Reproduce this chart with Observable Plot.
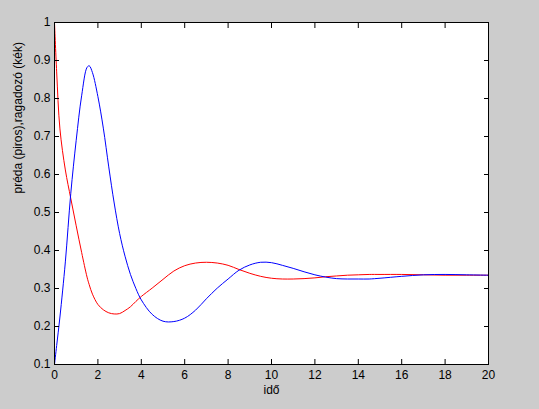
<!DOCTYPE html>
<html>
<head>
<meta charset="utf-8">
<script src="https://cdn.jsdelivr.net/npm/d3@7"></script>
<script src="https://cdn.jsdelivr.net/npm/@observablehq/plot@0.6"></script>
<style>
  html, body { margin: 0; padding: 0; background: #cccccc; }
  svg { display: block; }
</style>
</head>
<body>
<div id="chart"></div>
<script>
const t = [0,0.1,0.25,0.5,0.75,1,1.25,1.5,1.6,1.75,2,2.25,2.5,2.75,3,3.25,3.5,3.75,4,4.5,5,5.5,6,6.5,7,7.5,8,8.5,9,9.5,10,10.5,11,11.5,12,12.5,13,13.5,14,14.5,15,16,17,18,19,20];
const preda = [1.0,0.87,0.72,0.612,0.537,0.465,0.395,0.33,0.31,0.285,0.258,0.244,0.236,0.233,0.234,0.242,0.252,0.266,0.279,0.301,0.324,0.346,0.36,0.367,0.369,0.367,0.361,0.35,0.34,0.332,0.327,0.325,0.325,0.326,0.328,0.331,0.333,0.335,0.336,0.337,0.337,0.337,0.336,0.335,0.335,0.335];
const ragadozo = [0.10,0.15,0.225,0.37,0.55,0.69,0.807,0.882,0.886,0.868,0.805,0.722,0.62,0.525,0.445,0.385,0.337,0.300,0.270,0.232,0.214,0.213,0.222,0.243,0.273,0.301,0.325,0.348,0.362,0.369,0.368,0.361,0.353,0.344,0.336,0.33,0.326,0.325,0.325,0.325,0.327,0.332,0.336,0.337,0.336,0.335];
const xTicks = [0,2,4,6,8,10,12,14,16,18,20];
const yTicks = [0.1,0.2,0.3,0.4,0.5,0.6,0.7,0.8,0.9,1];
const xLabel = "idő";
const yLabel = "préda (piros),ragadozó (kék)";

const redData = t.map((v, i) => ({t: v, y: preda[i]}));
const blueData = t.map((v, i) => ({t: v, y: ragadozo[i]}));
const fmt = d => String(+(+d).toFixed(1));

const chart = Plot.plot({
  width: 539,
  height: 409,
  marginLeft: 54,
  marginRight: 51,
  marginTop: 22,
  marginBottom: 45,
  style: {background: "#cccccc", fontFamily: "'Liberation Sans', Arial, sans-serif", fontSize: "12px", color: "black"},
  x: {domain: [0, 20]},
  y: {domain: [0.1, 1]},
  marks: [
    Plot.frame({fill: "white", stroke: null}),
    Plot.line(redData, {x: "t", y: "y", stroke: "#ff0000", strokeWidth: 1, curve: "catmull-rom"}),
    Plot.line(blueData, {x: "t", y: "y", stroke: "#0000ff", strokeWidth: 1, curve: "catmull-rom"}),
    Plot.axisX({ticks: xTicks, tickSize: -5, tickPadding: 11, tickFormat: fmt, label: null, strokeWidth: 1}),
    Plot.axisX({ticks: xTicks, anchor: "top", tickSize: -5, tickFormat: () => "", label: null}),
    Plot.axisY({ticks: yTicks, tickSize: -5, tickPadding: 9, tickFormat: fmt, label: null}),
    Plot.axisY({ticks: yTicks, anchor: "right", tickSize: -5, tickFormat: () => "", label: null}),
    Plot.frame({stroke: "black", strokeWidth: 1}),
    Plot.text([xLabel], {frameAnchor: "bottom", dy: 29, fontSize: 12}),
    Plot.text([yLabel], {frameAnchor: "left", dx: -36, rotate: -90, fontSize: 12})
  ]
});
document.getElementById("chart").appendChild(chart);
</script>
</body>
</html>
